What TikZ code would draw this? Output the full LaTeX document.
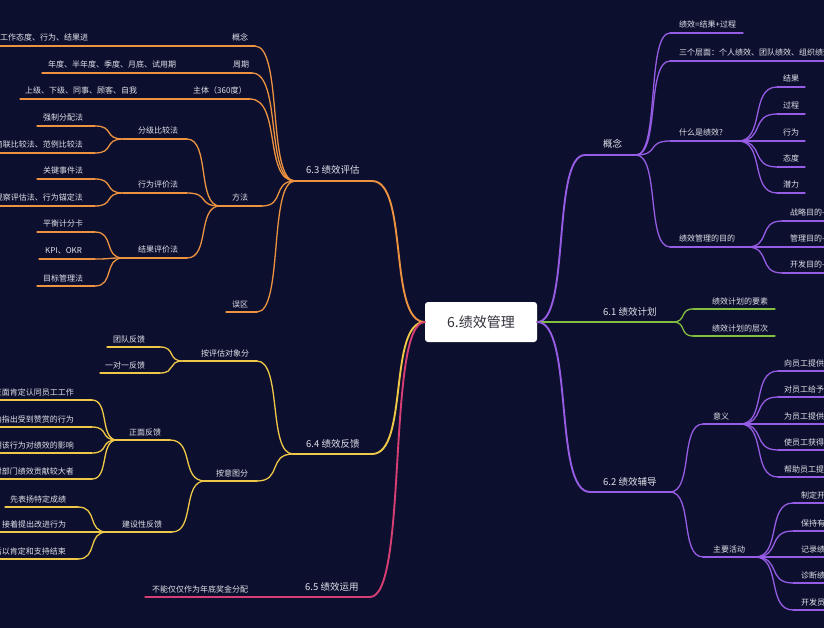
\documentclass[tikz,border=0pt]{standalone}
\usepackage{fontspec}
\setmainfont{Noto Sans CJK SC}
\usetikzlibrary{calc}
\definecolor{bg}{RGB}{12,16,46}
\definecolor{txt}{RGB}{225,225,235}
\definecolor{org}{RGB}{236,146,64}
\definecolor{yel}{RGB}{240,200,72}
\definecolor{pnk}{RGB}{214,62,116}
\definecolor{pur}{RGB}{150,92,228}
\definecolor{grn}{RGB}{132,190,64}
\definecolor{ctxt}{RGB}{50,50,60}
\tikzset{
  lbl/.style={text=txt, font=\fontsize{8}{9}\selectfont, inner sep=0pt},
  lblb/.style={lbl, font=\fontsize{9.5}{11}\selectfont, yshift=2pt},
  ln/.style={line width=1.3pt, line cap=round},
  mn/.style={line width=1.9pt, line cap=round},
  cbox/.style={fill=white, rounded corners=3pt, minimum width=112pt, minimum height=40pt, inner sep=0pt, text=ctxt, font=\fontsize{14}{16}\selectfont},
}
% #1 draw style, #2 name, #3 xl, #4 xr, #5 underline y, #6 node style, #7 text x, #8 text
\newcommand\mtopic[8]{%
  \coordinate (#2-l) at (#3,#5);
  \coordinate (#2-r) at (#4,#5);
  \draw[#1] (#2-l) -- (#2-r);
  \node[#6] (#2) at (#7,#5-5) {#8};
}
\newcommand\mconn[3]{%
  \draw[#1] let \p1=(#2), \p2=(#3) in (\p1) .. controls ({\x1+0.7*(\x2-\x1)},\y1) and ({\x2-0.7*(\x2-\x1)},\y2) .. (\p2);
}
\begin{document}
\begin{tikzpicture}[x=1pt,y=-1pt]
\useasboundingbox (0,0) rectangle (824,628);
\fill[bg] (0,0) rectangle (824,628);
\clip (0,0) rectangle (824,628);

% centre
\node[cbox] (c) at (481,322) {6.绩效管理};
\coordinate (c-l) at (c.west);
\coordinate (c-r) at (c.east);

% ---------- right: 概念 ----------
\mtopic{pur,mn}{k}{585}{636}{155}{lblb,anchor=base west}{603}{概念}
\mconn{pur,mn}{c-r}{k-l}
\mtopic{pur,ln}{a1}{670}{743}{33}{lbl,anchor=base west}{679}{绩效=结果+过程}
\mtopic{pur,ln}{a2}{670}{830}{61}{lbl,anchor=base west}{679}{三个层面：个人绩效、团队绩效、组织绩效}
\mtopic{pur,ln}{a3}{670}{738}{141}{lbl,anchor=base west}{679}{什么是绩效?}
\mtopic{pur,ln}{a4}{670}{747}{247}{lbl,anchor=base west}{679}{绩效管理的目的}
\mconn{pur,ln}{k-r}{a1-l}
\mconn{pur,ln}{k-r}{a2-l}
\mconn{pur,ln}{k-r}{a3-l}
\mconn{pur,ln}{k-r}{a4-l}
\mtopic{pur,ln}{b1}{777}{805}{87}{lbl,anchor=base west}{783}{结果}
\mtopic{pur,ln}{b2}{777}{805}{114}{lbl,anchor=base west}{783}{过程}
\mtopic{pur,ln}{b3}{777}{805}{141}{lbl,anchor=base west}{783}{行为}
\mtopic{pur,ln}{b4}{777}{805}{167}{lbl,anchor=base west}{783}{态度}
\mtopic{pur,ln}{b5}{777}{805}{193}{lbl,anchor=base west}{783}{潜力}
\foreach \i in {1,...,5}{\mconn{pur,ln}{a3-r}{b\i-l}}
\mtopic{pur,ln}{d1}{782}{830}{221}{lbl,anchor=base west}{790}{战略目的-}
\mtopic{pur,ln}{d2}{782}{830}{247}{lbl,anchor=base west}{790}{管理目的-}
\mtopic{pur,ln}{d3}{782}{830}{273}{lbl,anchor=base west}{790}{开发目的-}
\foreach \i in {1,2,3}{\mconn{pur,ln}{a4-r}{d\i-l}}

% ---------- right: 6.1 ----------
\mtopic{grn,mn}{g}{560}{673}{322}{lblb,anchor=base west}{603}{6.1 绩效计划}
\mconn{grn,mn}{c-r}{g-l}
\mtopic{grn,ln}{g1}{693}{775}{309}{lbl,anchor=base west}{712}{绩效计划的要素}
\mtopic{grn,ln}{g2}{693}{775}{336}{lbl,anchor=base west}{712}{绩效计划的层次}
\mconn{grn,ln}{g-r}{g1-l}
\mconn{grn,ln}{g-r}{g2-l}

% ---------- right: 6.2 ----------
\mtopic{pur,mn}{f}{590}{670}{492}{lblb,anchor=base west}{603}{6.2 绩效辅导}
\mconn{pur,mn}{c-r}{f-l}
\mtopic{pur,ln}{yi}{703}{740}{424}{lbl,anchor=base west}{713}{意义}
\mtopic{pur,ln}{zh}{703}{755}{557}{lbl,anchor=base west}{713}{主要活动}
\mconn{pur,ln}{f-r}{yi-l}
\mconn{pur,ln}{f-r}{zh-l}
\mtopic{pur,ln}{y1}{778}{830}{371}{lbl,anchor=base west}{784}{向员工提供}
\mtopic{pur,ln}{y2}{778}{830}{397}{lbl,anchor=base west}{784}{对员工给予}
\mtopic{pur,ln}{y3}{778}{830}{424}{lbl,anchor=base west}{784}{为员工提供}
\mtopic{pur,ln}{y4}{778}{830}{450}{lbl,anchor=base west}{784}{使员工获得}
\mtopic{pur,ln}{y5}{778}{830}{477}{lbl,anchor=base west}{784}{帮助员工提}
\foreach \i in {1,...,5}{\mconn{pur,ln}{yi-r}{y\i-l}}
\mtopic{pur,ln}{z1}{793}{830}{503}{lbl,anchor=base west}{801}{制定开}
\mtopic{pur,ln}{z2}{793}{830}{531}{lbl,anchor=base west}{801}{保持有}
\mtopic{pur,ln}{z3}{793}{830}{557}{lbl,anchor=base west}{801}{记录绩}
\mtopic{pur,ln}{z4}{793}{830}{583}{lbl,anchor=base west}{801}{诊断绩}
\mtopic{pur,ln}{z5}{793}{830}{610}{lbl,anchor=base west}{801}{开发员}
\foreach \i in {1,...,5}{\mconn{pur,ln}{zh-r}{z\i-l}}

% ---------- left: 6.3 ----------
\mtopic{org,mn}{e}{295}{372}{181}{lblb,anchor=base west}{306}{6.3 绩效评估}
\mconn{org,mn}{c-l}{e-r}
\mtopic{org,ln}{e1}{215}{255}{46}{lbl,anchor=base west}{232}{概念}
\mtopic{org,ln}{e2}{205}{252}{73}{lbl,anchor=base west}{233}{周期}
\mtopic{org,ln}{e3}{185}{250}{99}{lbl,anchor=base west}{193}{主体（360度）}
\mtopic{org,ln}{e4}{220}{262}{206}{lbl,anchor=base west}{232}{方法}
\mtopic{org,ln}{e5}{226}{257}{312}{lbl,anchor=base west}{232}{误区}
\foreach \i in {1,...,5}{\mconn{org,ln}{e-l}{e\i-r}}
\mtopic{org,ln}{e1c}{-5}{100}{46}{lbl,anchor=base west}{0}{工作态度、行为、结果进}
\mconn{org,ln}{e1-l}{e1c-r}
\mtopic{org,ln}{e2c}{42}{190}{73}{lbl,anchor=base west}{48}{年度、半年度、季度、月底、试用期}
\mconn{org,ln}{e2-l}{e2c-r}
\mtopic{org,ln}{e3c}{20}{150}{99}{lbl,anchor=base west}{25}{上级、下级、同事、顾客、自我}
\mconn{org,ln}{e3-l}{e3c-r}

\mtopic{org,ln}{m1}{123}{187}{139}{lbl,anchor=base west}{138}{分级比较法}
\mtopic{org,ln}{m2}{123}{187}{193}{lbl,anchor=base west}{138}{行为评价法}
\mtopic{org,ln}{m3}{123}{187}{258}{lbl,anchor=base west}{138}{结果评价法}
\foreach \i in {1,2,3}{\mconn{org,ln}{e4-l}{m\i-r}}
\mtopic{org,ln}{m1a}{37}{95}{126}{lbl,anchor=base west}{43}{强制分配法}
\mtopic{org,ln}{m1b}{-5}{95}{153}{lbl,anchor=base east}{83}{简联比较法、范例比较法}
\mconn{org,ln}{m1-l}{m1a-r}
\mconn{org,ln}{m1-l}{m1b-r}
\mtopic{org,ln}{m2a}{37}{95}{179}{lbl,anchor=base west}{43}{关键事件法}
\mtopic{org,ln}{m2b}{-5}{95}{206}{lbl,anchor=base east}{83}{观察评估法、行为锚定法}
\mconn{org,ln}{m2-l}{m2a-r}
\mconn{org,ln}{m2-l}{m2b-r}
\mtopic{org,ln}{m3a}{37}{95}{232}{lbl,anchor=base west}{43}{平衡计分卡}
\mtopic{org,ln}{m3b}{39}{95}{259}{lbl,anchor=base west}{45}{KPI、OKR}
\mtopic{org,ln}{m3c}{37}{95}{286}{lbl,anchor=base west}{43}{目标管理法}
\mconn{org,ln}{m3-l}{m3a-r}
\mconn{org,ln}{m3-l}{m3b-r}
\mconn{org,ln}{m3-l}{m3c-r}

% ---------- left: 6.4 ----------
\mtopic{yel,mn}{h}{293}{372}{454}{lblb,anchor=base west}{306}{6.4 绩效反馈}
\mconn{yel,mn}{c-l}{h-r}
\mtopic{yel,ln}{h1}{183}{257}{361}{lbl,anchor=base west}{201}{按评估对象分}
\mtopic{yel,ln}{h2}{205}{257}{481}{lbl,anchor=base west}{216}{按意图分}
\mconn{yel,ln}{h-l}{h1-r}
\mconn{yel,ln}{h-l}{h2-r}
\mtopic{yel,ln}{t1}{107}{160}{347}{lbl,anchor=base west}{113}{团队反馈}
\mtopic{yel,ln}{t2}{100}{160}{373}{lbl,anchor=base west}{105}{一对一反馈}
\mconn{yel,ln}{h1-l}{t1-r}
\mconn{yel,ln}{h1-l}{t2-r}
\mtopic{yel,ln}{s1}{117}{170}{440}{lbl,anchor=base west}{129}{正面反馈}
\mtopic{yel,ln}{s2}{107}{172}{532}{lbl,anchor=base west}{122}{建设性反馈}
\mconn{yel,ln}{h2-l}{s1-r}
\mconn{yel,ln}{h2-l}{s2-r}
\mtopic{yel,ln}{p1}{-5}{92}{400}{lbl,anchor=base east}{74}{从正面肯定认同员工工作}
\mtopic{yel,ln}{p2}{-5}{92}{427}{lbl,anchor=base east}{74}{明确指出受到赞赏的行为}
\mtopic{yel,ln}{p3}{-5}{92}{453}{lbl,anchor=base east}{74}{说明该行为对绩效的影响}
\mtopic{yel,ln}{p4}{-5}{92}{479}{lbl,anchor=base east}{74}{对部门绩效贡献较大者}
\foreach \i in {1,...,4}{\mconn{yel,ln}{s1-l}{p\i-r}}
\mtopic{yel,ln}{q1}{5}{78}{507}{lbl,anchor=base west}{10}{先表扬特定成绩}
\mtopic{yel,ln}{q2}{-5}{95}{532}{lbl,anchor=base west}{2}{接着提出改进行为}
\mtopic{yel,ln}{q3}{-5}{78}{559}{lbl,anchor=base east}{66}{最后以肯定和支持结束}
\foreach \i in {1,2,3}{\mconn{yel,ln}{s2-l}{q\i-r}}

% ---------- left: 6.5 ----------
\mtopic{pnk,mn}{r}{295}{370}{597}{lblb,anchor=base west}{305}{6.5 绩效运用}
\mconn{pnk,mn}{c-l}{r-r}
\mtopic{pnk,ln}{r1}{145}{270}{597}{lbl,anchor=base west}{152}{不能仅仅作为年底奖金分配}
\mconn{pnk,ln}{r-l}{r1-r}
\end{tikzpicture}
\end{document}
